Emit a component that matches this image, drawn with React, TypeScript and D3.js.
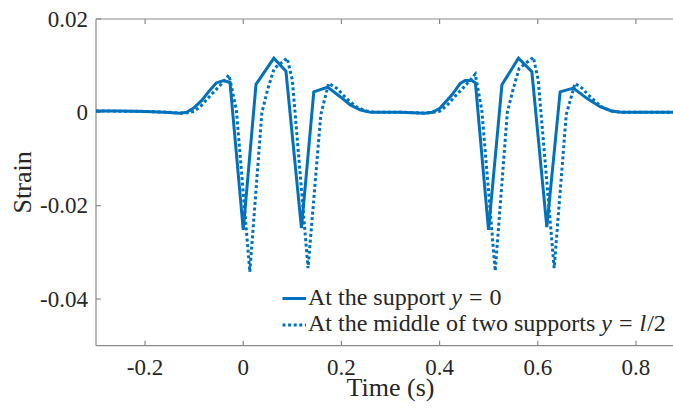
import React from 'react'
import * as d3 from 'd3'

// strain at the support, y = 0  [time (s), strain]
const supportSeries: [number, number][] = [
  [-0.30, 0.0003], [-0.25, 0.0003], [-0.20, 0.0002], [-0.16, 0.0], [-0.13, -0.0002],
  [-0.115, 0.0], [-0.10, 0.0010], [-0.085, 0.0025], [-0.07, 0.0045], [-0.055, 0.0063],
  [-0.04, 0.0068], [-0.027, 0.0064], [0.0, -0.0252], [0.026, 0.0060], [0.0623, 0.0116],
  [0.087, 0.0088], [0.1186, -0.0248], [0.1437, 0.0044], [0.172, 0.0054], [0.198, 0.0033],
  [0.218, 0.0016], [0.239, 0.0005], [0.26, 0.0], [0.32, 0.0], [0.37, -0.0002],
  [0.385, 0.0], [0.40, 0.0008], [0.425, 0.0037], [0.442, 0.0062], [0.452, 0.0068],
  [0.466, 0.0068], [0.473, 0.0063], [0.4997, -0.0252], [0.527, 0.0059], [0.5607, 0.0116],
  [0.588, 0.0087], [0.6185, -0.0246], [0.6456, 0.0044], [0.6726, 0.0052], [0.70, 0.0030],
  [0.727, 0.0012], [0.75, 0.0003], [0.77, 0.0], [0.90, 0.0],
]

// strain at the middle of two supports, y = l/2
const middleSeries: [number, number][] = [
  [-0.30, 0.0003], [-0.20, 0.0002], [-0.15, 0.0], [-0.12, -0.0002], [-0.10, 0.0002],
  [-0.085, 0.0015], [-0.066, 0.0037], [-0.045, 0.0060], [-0.029, 0.0080], [-0.014, 0.0005],
  [0.0134, -0.0342], [0.038, 0.0], [0.05, 0.0050], [0.063, 0.0094], [0.0895, 0.0116],
  [0.100, 0.0069], [0.132, -0.0334], [0.158, -0.0005], [0.174, 0.0062], [0.19, 0.0052],
  [0.21, 0.0030], [0.23, 0.0012], [0.25, 0.0003], [0.27, 0.0], [0.33, 0.0],
  [0.37, -0.0002], [0.40, 0.0002], [0.415, 0.0015], [0.434, 0.0037], [0.455, 0.0060],
  [0.4727, 0.0082], [0.486, 0.0005], [0.5133, -0.0340], [0.538, 0.0], [0.55, 0.0050],
  [0.562, 0.0094], [0.591, 0.0118], [0.601, 0.0069], [0.6334, -0.0334], [0.658, -0.0005],
  [0.676, 0.0062], [0.69, 0.0052], [0.71, 0.0030], [0.73, 0.0012], [0.75, 0.0003],
  [0.77, 0.0], [0.90, 0.0],
]

const xTicks = [-0.2, 0, 0.2, 0.4, 0.6, 0.8]
const yTicks = [-0.04, -0.02, 0, 0.02]

const W = 673
const H = 410
const left = 96
const right = 685
const top = 19
const bottom = 345.7
const blue = '#0072BD'
const axisColor = '#8a8a8a'
const serif = { fontFamily: 'Liberation Serif' }

const fmt = (t: number) => d3.format('~g')(t).replace('−', '-')

const App = () => {
  const x = d3.scaleLinear().domain([-0.3, 0.9]).range([left, right])
  const y = d3.scaleLinear().domain([-0.05, 0.02]).range([bottom, top])
  const line = d3.line<[number, number]>()
    .x(d => x(d[0]))
    .y(d => y(d[1]))

  return (
    <svg width={W} height={H} style={{ position: 'absolute', left: 0, top: 0 }}>
      <defs>
        <clipPath id="plot">
          <rect x={left} y={top} width={right - left} height={bottom - top} />
        </clipPath>
      </defs>
      <rect width={W} height={H} fill="#fff" />

      {/* box */}
      <g stroke={axisColor} strokeWidth={1.2} fill="none">
        <line x1={left} x2={right} y1={bottom} y2={bottom} />
        <line x1={left} x2={right} y1={top} y2={top} />
        <line x1={left} x2={left} y1={top} y2={bottom} />
        {xTicks.map(t => (
          <g key={t}>
            <line x1={x(t)} x2={x(t)} y1={bottom} y2={bottom - 5} />
            <line x1={x(t)} x2={x(t)} y1={top} y2={top + 5} />
          </g>
        ))}
        {yTicks.map(t => (
          <line key={t} x1={left} x2={left + 5} y1={y(t)} y2={y(t)} />
        ))}
      </g>

      <g fontSize={23} fill="#262626">
        {xTicks.map(t => (
          <text key={t} style={serif} x={x(t)} y={bottom + 29.5} textAnchor="middle">{fmt(t)}</text>
        ))}
        {yTicks.map(t => (
          <text key={t} style={serif} x={left - 8} y={y(t) + 7.5} textAnchor="end">{fmt(t)}</text>
        ))}
        <text style={serif} x={(left + right) / 2} y={396} textAnchor="middle" fontSize={26}>Time (s)</text>
        <text style={serif} transform={`translate(31, ${(top + bottom) / 2}) rotate(-90)`} textAnchor="middle" fontSize={26}>Strain</text>
      </g>

      <g clipPath="url(#plot)" fill="none" stroke={blue} strokeWidth={3}>
        <path d={line(supportSeries) || ''} />
        <path d={line(middleSeries) || ''} strokeDasharray="3 2.6" />
      </g>

      {/* legend */}
      <g fontSize={24} fill="#262626">
        <line x1={282.5} x2={306} y1={298.5} y2={298.5} stroke={blue} strokeWidth={3} />
        <text style={serif} x={308} y={305}>At the support <tspan fontStyle="italic">y</tspan><tspan dx={7}>=</tspan><tspan dx={7}>0</tspan></text>
        <line x1={282.5} x2={306} y1={325} y2={325} stroke={blue} strokeWidth={3} strokeDasharray="3 2.6" />
        <text style={serif} x={308} y={331}>At the middle of two supports <tspan fontStyle="italic">y</tspan><tspan dx={7}>=</tspan><tspan dx={7} fontStyle="italic">l</tspan><tspan dx={1}>/2</tspan></text>
      </g>
    </svg>
  )
}

export default App
